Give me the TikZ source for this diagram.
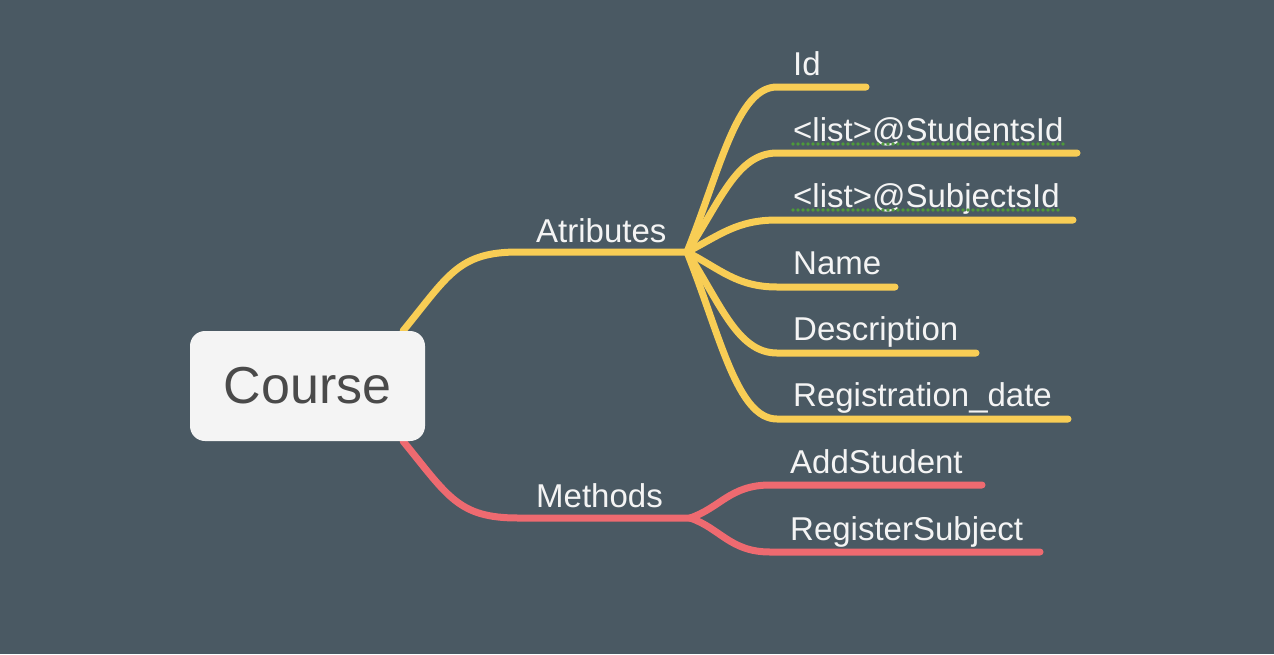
\documentclass[tikz,border=0pt]{standalone}
\usepackage{fontspec}
\setmainfont{Liberation Sans}
\usetikzlibrary{backgrounds}

\definecolor{bgcol}{HTML}{4A5963}
\definecolor{attrcol}{HTML}{F8CD55}
\definecolor{methcol}{HTML}{EE6A70}
\definecolor{leafcol}{HTML}{F4F4F4}
\definecolor{rootcol}{HTML}{F4F4F4}
\definecolor{roottext}{HTML}{4A4A4A}
\definecolor{spellcol}{HTML}{4E9A3A}

\tikzset{
  branch/.style={line width=7pt, line cap=round, line join=round},
  attrline/.style={branch, draw=attrcol},
  methline/.style={branch, draw=methcol},
  spellline/.style={draw=spellcol, line width=3.6pt, line cap=round, dash pattern=on 0pt off 5pt},
}

\begin{document}
\begin{tikzpicture}[x=1pt, y=-1pt]
            \useasboundingbox (0,0) rectangle (1274,654);
            \node[rectangle, rounded corners=15pt, fill=rootcol, text=roottext,
                  minimum width=235pt, minimum height=110pt,
                  font=\fontsize{52}{52}\selectfont] (course) at (307.5,386) {Course};
            \begin{scope}[every node/.style={anchor=base west, inner sep=0pt, text=leafcol, font=\fontsize{33}{33}\selectfont}]
                \node (atributes) at (536,242) {Atributes};
                \node (methods) at (536,507) {Methods};
                \node (id) at (793,75) {Id};
                \node (students) at (793,141) {<list>@StudentsId};
                \node (subjects) at (793,207) {<list>@SubjectsId};
                \node (name) at (793,274) {Name};
                \node (description) at (793,340) {Description};
                \node (regdate) at (793,406) {Registration\_date};
                \node (addstudent) at (790,473) {AddStudent};
                \node (regsubject) at (790,540) {RegisterSubject};
            \end{scope}
            % branch points and line ends
            \coordinate (attr in) at (518,252);
            \coordinate (attr) at (687,252);
            \coordinate (meth in) at (518,518);
            \coordinate (meth) at (690,518);
            \coordinate (id a) at (777,87);      \coordinate (id b) at (866,87);
            \coordinate (students a) at (777,153); \coordinate (students b) at (1077,153);
            \coordinate (subjects a) at (777,220); \coordinate (subjects b) at (1073,220);
            \coordinate (name a) at (777,287);    \coordinate (name b) at (895,287);
            \coordinate (description a) at (777,353); \coordinate (description b) at (976,353);
            \coordinate (regdate a) at (777,419); \coordinate (regdate b) at (1068,419);
            \coordinate (addstudent a) at (770,485); \coordinate (addstudent b) at (982,485);
            \coordinate (regsubject a) at (770,552); \coordinate (regsubject b) at (1040,552);
            \begin{scope}[on background layer]
                \fill[bgcol] (0,0) rectangle (1274,654);
                \draw[attrline] (course.30) .. controls +(45,-55) and +(-60,0) .. (attr in) -- (attr);
                \draw[methline] (course.-30) .. controls +(45,55) and +(-60,0) .. (meth in) -- (meth);
            \end{scope}
            \draw[attrline] (attr) .. controls +(33,-82) and +(-40,0) .. (id a) -- (id b);
            \draw[attrline] (attr) .. controls +(33,-50) and +(-40,0) .. (students a) -- (students b);
            \draw[attrline] (attr) .. controls +(33,-17) and +(-40,0) .. (subjects a) -- (subjects b);
            \draw[attrline] (attr) .. controls +(33,17) and +(-40,0) .. (name a) -- (name b);
            \draw[attrline] (attr) .. controls +(33,50) and +(-40,0) .. (description a) -- (description b);
            \draw[attrline] (attr) .. controls +(33,83) and +(-40,0) .. (regdate a) -- (regdate b);
            \draw[methline] (meth) .. controls +(30,-10) and +(-40,0) .. (addstudent a) -- (addstudent b);
            \draw[methline] (meth) .. controls +(30,10) and +(-40,0) .. (regsubject a) -- (regsubject b);
            % spell check marks
            \draw[spellline] ([yshift=-3pt]students.base west) -- ([yshift=-3pt]students.base east);
            \draw[spellline] ([yshift=-3pt]subjects.base west) -- ([yshift=-3pt]subjects.base east);
        \end{tikzpicture}
\end{document}
